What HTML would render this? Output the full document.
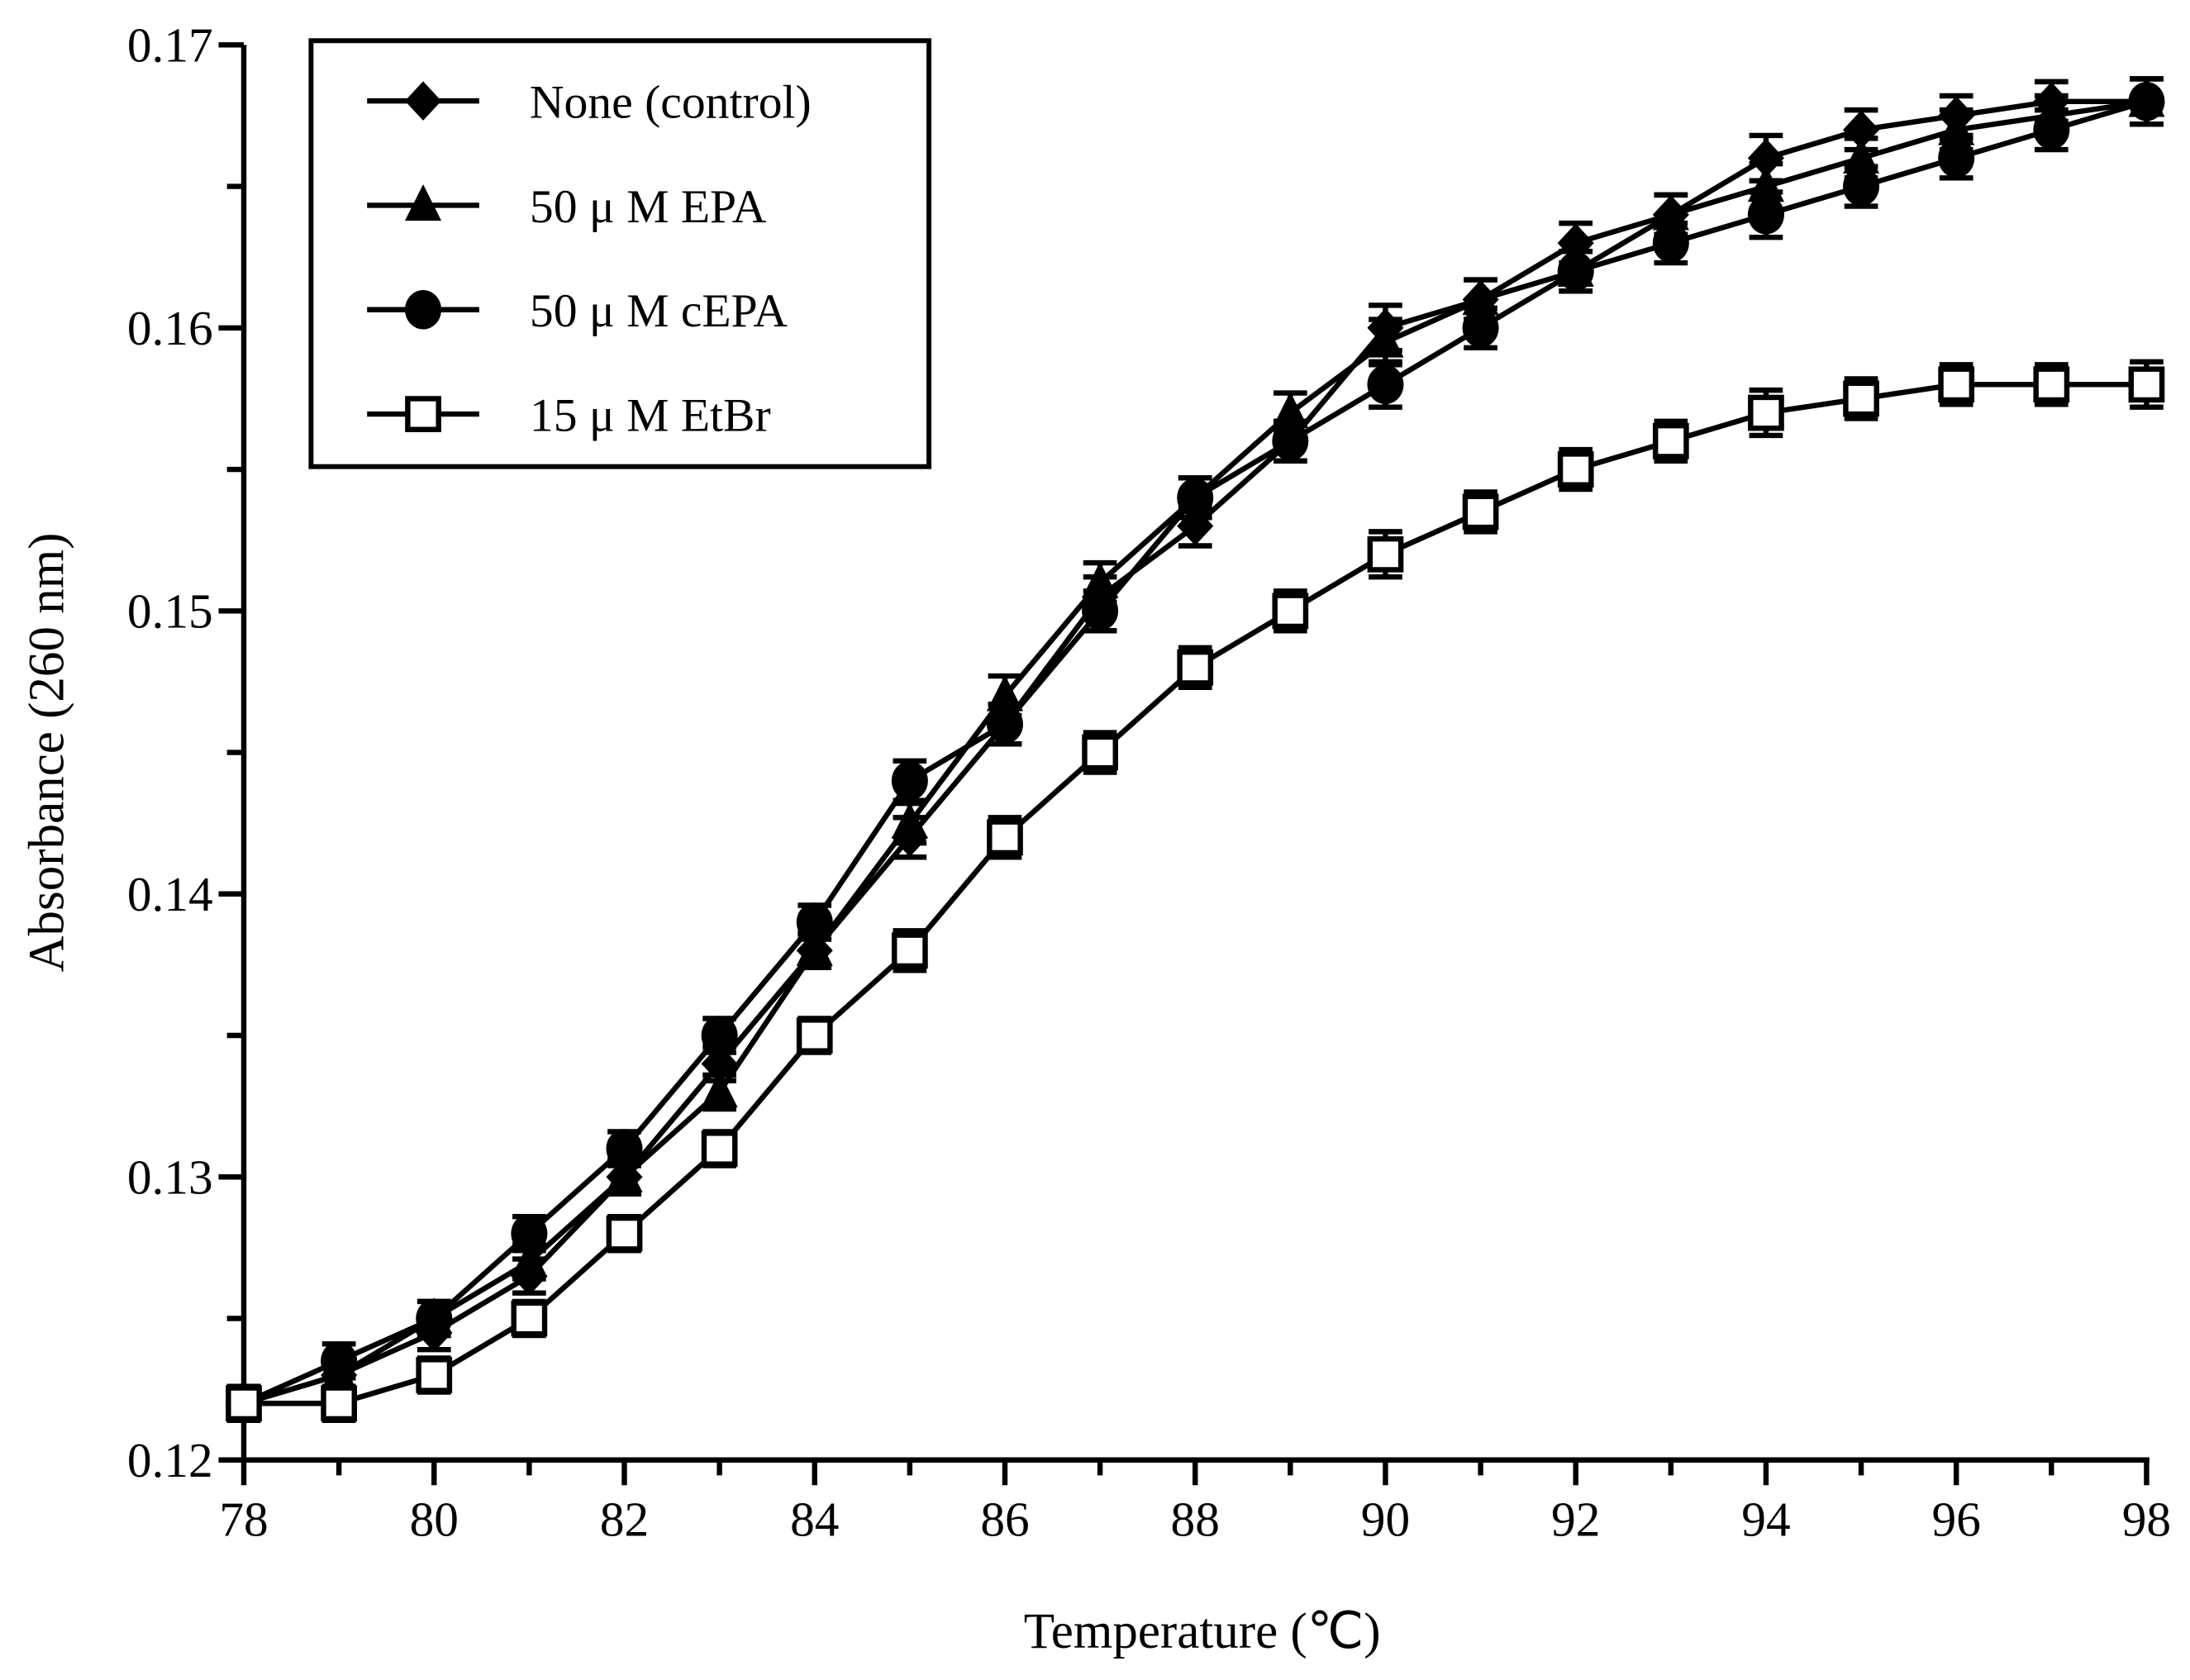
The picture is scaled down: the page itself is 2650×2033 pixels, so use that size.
<!DOCTYPE html>
<html><head><meta charset="utf-8"><style>html,body{margin:0;padding:0;background:#fff}svg{display:block}</style></head>
<body>
<svg id="chart" width="2650" height="2033" viewBox="0 0 1563 1199" xmlns="http://www.w3.org/2000/svg" font-family="'Liberation Serif', serif">
<g id="axes"></g>
<g id="series"></g>
<g>
<rect x="222" y="29" width="441" height="304" fill="#fff" stroke="#000" stroke-width="3.5"/>
<g id="legend-items"></g>
</g>
<text x="858" y="1176" font-size="36" text-anchor="middle">Temperature (℃)</text>
<text transform="translate(45,537) rotate(-90)" font-size="36" text-anchor="middle">Absorbance (260 nm)</text>
</svg>
<script>
const temps=[78,79,80,81,82,83,84,85,86,87,88,89,90,91,92,93,94,95,96,97,98];
const control=[.122,.123,.1245,.1265,.130,.134,.138,.142,.146,.1505,.153,.156,.160,.161,.163,.164,.166,.167,.1675,.168,.168];
const epa=[.122,.123,.125,.127,.130,.133,.138,.1425,.147,.151,.154,.157,.1595,.161,.162,.164,.165,.166,.167,.1675,.168];
const cepa=[.122,.1235,.125,.128,.131,.135,.139,.144,.146,.150,.154,.156,.158,.160,.162,.163,.164,.165,.166,.167,.168];
const etbr=[.122,.122,.123,.125,.128,.131,.135,.138,.142,.145,.148,.150,.152,.1535,.155,.156,.157,.1575,.158,.158,.158];
const errVal=[.0006,.0006,.0006,.0006,.0006,.0006,.0006,.0007,.0007,.0007,.0007,.0007,.0008,.0007,.0007,.0007,.0008,.0007,.0007,.0007,.0008];
const xTicks=[78,80,82,84,86,88,90,92,94,96,98];
const yTicks=[0.12,0.13,0.14,0.15,0.16,0.17];
const yMinor=[0.125,0.135,0.145,0.155,0.165];
const legendLabels=["None (control)","50 μ M EPA","50 μ M cEPA","15 μ M EtBr"];

const X0=174,X1=1532,Y0=1042,Y1=32;
const sx=v=>X0+(v-78)/(98-78)*(X1-X0);
const sy=v=>Y0-(v-0.12)/(0.17-0.12)*(Y0-Y1);
const NS="http://www.w3.org/2000/svg";
const SW=3.8;
function mk(tag,attrs,parent){const e=document.createElementNS(NS,tag);for(const k in attrs)e.setAttribute(k,attrs[k]);parent.appendChild(e);return e;}
const axes=document.getElementById('axes');
let e;
e=mk('line',{x1:X0,y1:Y1,x2:X0,y2:Y0+2,stroke:'#000','stroke-width':SW},axes);


e=mk('line',{x1:X0-2,y1:Y0,x2:X1+2,y2:Y0,stroke:'#000','stroke-width':SW},axes);


yTicks.forEach(v=>{
 mk('line',{x1:X0-18,y1:sy(v),x2:X0,y2:sy(v),stroke:'#000','stroke-width':SW},axes);
 const t=mk('text',{x:X0-22,y:sy(v)+12,'font-size':35,'text-anchor':'end'},axes);
 t.textContent=v.toFixed(2);
 
 
});
yMinor.forEach(v=>mk('line',{x1:X0-12,y1:sy(v),x2:X0,y2:sy(v),stroke:'#000','stroke-width':SW},axes));
for(let d=78;d<=98;d++){
 const major=xTicks.includes(d);
 mk('line',{x1:sx(d),y1:Y0,x2:sx(d),y2:Y0+(major?18:11),stroke:'#000','stroke-width':SW},axes);
}
xTicks.forEach(v=>{
 const t=mk('text',{x:sx(v),y:Y0+54,'font-size':35,'text-anchor':'middle'},axes);
 t.textContent=v;
 
 
});
function marker(type,x,y,g){
 if(type==='diamond')return mk('polygon',{points:`${x},${y-14} ${x+13},${y} ${x},${y+14} ${x-13},${y}`,fill:'#000'},g);
 if(type==='triangle')return mk('polygon',{points:`${x},${y-15} ${x+13},${y+11} ${x-13},${y+11}`,fill:'#000'},g);
 if(type==='circle')return mk('ellipse',{cx:x,cy:y,rx:13,ry:14,fill:'#000'},g);
 return mk('rect',{x:x-11,y:y-11,width:22,height:22,fill:'#fff',stroke:'#000','stroke-width':SW},g);
}
const seriesDefs=[[control,'diamond','series-control'],[epa,'triangle','series-epa'],[cepa,'circle','series-cepa'],[etbr,'square','series-etbr']];
const sg=document.getElementById('series');
seriesDefs.forEach(([vals,type,name])=>{
 const g=mk('g',{},sg);
 
 
 const pl=mk('polyline',{points:temps.map((t,i)=>sx(t)+','+sy(vals[i])).join(' '),fill:'none',stroke:'#000','stroke-width':SW},g);
 
 
 temps.forEach((t,i)=>{
  const x=sx(t),y=sy(vals[i]),hi=sy(vals[i]+errVal[i]),lo=sy(vals[i]-errVal[i]);
  mk('line',{x1:x,y1:hi,x2:x,y2:lo,stroke:'#000','stroke-width':SW},g);
  mk('line',{x1:x-12,y1:hi,x2:x+12,y2:hi,stroke:'#000','stroke-width':SW},g);
  mk('line',{x1:x-12,y1:lo,x2:x+12,y2:lo,stroke:'#000','stroke-width':SW},g);
 });
 temps.forEach((t,i)=>{
  const m=marker(type,sx(t),sy(vals[i]),g);
  
  
 });
});
const lg=document.getElementById('legend-items');
['diamond','triangle','circle','square'].forEach((type,i)=>{
 const y=72+i*74.5;
 const g=mk('g',{},lg);
 
 
 mk('line',{x1:262,y1:y,x2:342,y2:y,stroke:'#000','stroke-width':SW},g);
 marker(type,302,y,g);
 const t=mk('text',{x:378,y:y+12,'font-size':34},g);
 t.textContent=legendLabels[i];
});
</script>
</body></html>
